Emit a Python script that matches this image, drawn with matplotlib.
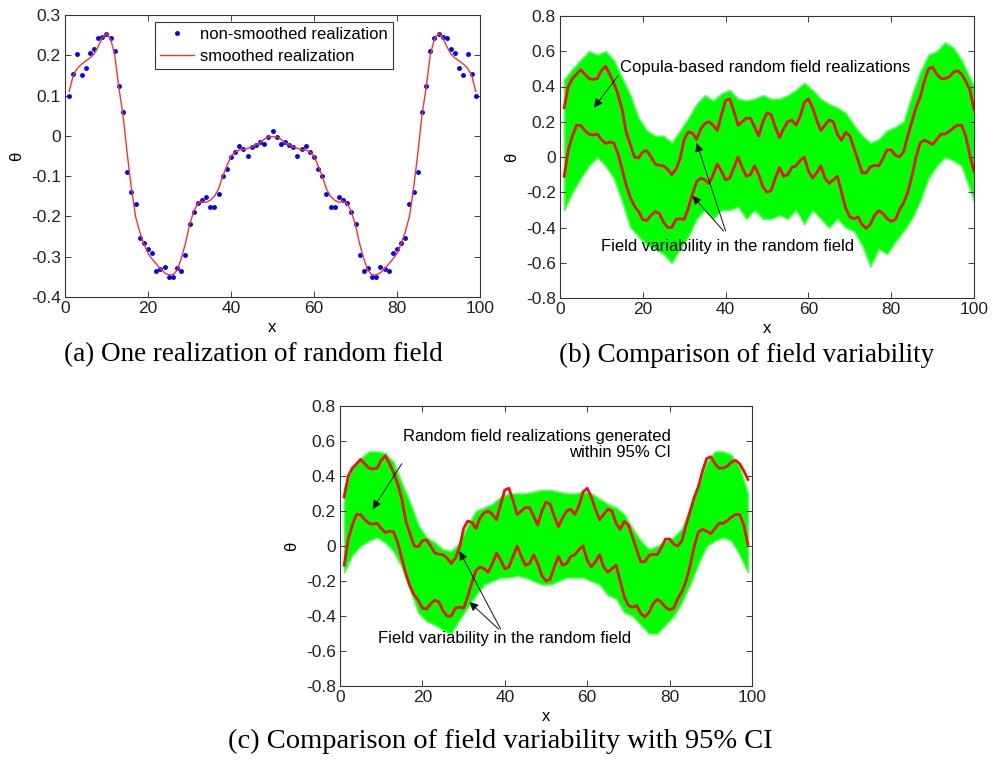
import numpy as np
import matplotlib.pyplot as plt

plt.rcParams['font.family'] = ['Liberation Sans', 'DejaVu Sans']
plt.rcParams['axes.unicode_minus'] = False

# ---- (a) one realization ----
x_a = np.arange(1, 100)
theta_raw = [0.100, 0.153, 0.203, 0.151, 0.169, 0.205, 0.215, 0.244, 0.245, 0.254,
             0.242, 0.211, 0.124, 0.059, -0.090, -0.139, -0.169, -0.253, -0.267, -0.280,
             -0.290, -0.335, -0.331, -0.326, -0.350, -0.350, -0.328, -0.335, -0.296, -0.220,
             -0.188, -0.167, -0.158, -0.153, -0.177, -0.177, -0.144, -0.100, -0.083, -0.052,
             -0.040, -0.024, -0.033, -0.051, -0.027, -0.022, -0.016, -0.020, -0.002, 0.012,
             -0.002, -0.020, -0.016, -0.022, -0.027, -0.051, -0.033, -0.024, -0.040, -0.052,
             -0.083, -0.100, -0.144, -0.177, -0.177, -0.153, -0.158, -0.167, -0.188, -0.220,
             -0.296, -0.335, -0.328, -0.350, -0.350, -0.326, -0.331, -0.335, -0.290, -0.280,
             -0.267, -0.253, -0.169, -0.139, -0.090, 0.059, 0.124, 0.211, 0.242, 0.254,
             0.245, 0.244, 0.215, 0.205, 0.169, 0.151, 0.203, 0.153, 0.100]
theta_smooth = [0.110, 0.150, 0.168, 0.178, 0.186, 0.193, 0.203, 0.222, 0.244, 0.254,
                0.240, 0.200, 0.118, 0.050, -0.045, -0.130, -0.200, -0.238, -0.268, -0.292,
                -0.306, -0.318, -0.330, -0.340, -0.345, -0.345, -0.334, -0.305, -0.268, -0.222,
                -0.188, -0.168, -0.162, -0.165, -0.160, -0.150, -0.132, -0.100, -0.075, -0.050,
                -0.040, -0.035, -0.034, -0.031, -0.028, -0.022, -0.017, -0.008, -0.003, -0.002,
                -0.003, -0.008, -0.017, -0.022, -0.028, -0.031, -0.034, -0.035, -0.040, -0.050,
                -0.075, -0.100, -0.132, -0.150, -0.160, -0.165, -0.162, -0.168, -0.188, -0.222,
                -0.268, -0.305, -0.334, -0.345, -0.345, -0.340, -0.330, -0.318, -0.306, -0.292,
                -0.268, -0.238, -0.200, -0.130, -0.045, 0.050, 0.118, 0.200, 0.240, 0.254,
                0.244, 0.222, 0.203, 0.193, 0.186, 0.178, 0.168, 0.150, 0.110]

# ---- (b), (c) field variability bounds (red) ----
x_bc = np.arange(1, 101)
var_upper = [0.28, 0.40, 0.445, 0.47, 0.495, 0.47, 0.445, 0.44, 0.445, 0.49,
             0.515, 0.47, 0.42, 0.355, 0.27, 0.14, 0.07, 0.00, -0.005, 0.03,
             0.035, 0.00, -0.04, -0.047, -0.05, -0.07, -0.10, -0.07, -0.01, 0.10,
             0.143, 0.135, 0.10, 0.16, 0.19, 0.20, 0.18, 0.15, 0.24, 0.32,
             0.33, 0.26, 0.18, 0.20, 0.22, 0.22, 0.17, 0.12, 0.20, 0.25,
             0.24, 0.17, 0.11, 0.16, 0.20, 0.21, 0.18, 0.23, 0.31, 0.33,
             0.28, 0.21, 0.15, 0.18, 0.21, 0.20, 0.13, 0.095, 0.14, 0.12,
             0.05, -0.02, -0.09, -0.09, -0.055, -0.047, -0.05, -0.01, 0.04, 0.04,
             0.01, 0.00, 0.03, 0.12, 0.20, 0.28, 0.34, 0.43, 0.50, 0.51,
             0.47, 0.445, 0.445, 0.455, 0.48, 0.49, 0.47, 0.43, 0.38, 0.27]
var_lower = [-0.11, 0.04, 0.12, 0.18, 0.18, 0.15, 0.13, 0.125, 0.13, 0.10,
             0.077, 0.085, 0.08, 0.02, -0.07, -0.16, -0.23, -0.28, -0.31, -0.355,
             -0.36, -0.33, -0.31, -0.32, -0.37, -0.40, -0.40, -0.355, -0.35, -0.355,
             -0.29, -0.21, -0.14, -0.12, -0.13, -0.15, -0.10, -0.04, -0.08, -0.13,
             -0.12, -0.06, 0.00, -0.06, -0.11, -0.10, -0.05, -0.10, -0.17, -0.20,
             -0.19, -0.12, -0.06, -0.11, -0.10, -0.06, -0.05, -0.02, 0.00, -0.08,
             -0.12, -0.09, -0.05, -0.12, -0.15, -0.13, -0.11, -0.20, -0.29, -0.34,
             -0.35, -0.34, -0.385, -0.405, -0.38, -0.33, -0.305, -0.32, -0.35, -0.365,
             -0.355, -0.30, -0.26, -0.20, -0.11, 0.00, 0.08, 0.095, 0.085, 0.07,
             0.10, 0.13, 0.13, 0.145, 0.165, 0.18, 0.18, 0.12, 0.01, -0.08]

# ---- realization envelopes (green) ----
x_env = [1, 3, 5, 7, 9, 11, 13, 15, 17, 19, 21, 23, 25, 27, 29, 31, 33, 35, 37, 39,
         41, 43, 45, 47, 49, 51, 53, 55, 57, 59, 61, 63, 65, 67, 69, 71, 73, 75, 77, 79,
         81, 83, 85, 87, 89, 91, 93, 95, 97, 99]
copula_top = [0.44, 0.50, 0.55, 0.60, 0.58, 0.60, 0.55, 0.45, 0.35, 0.22,
              0.15, 0.12, 0.12, 0.08, 0.15, 0.22, 0.30, 0.35, 0.32, 0.36,
              0.38, 0.33, 0.32, 0.33, 0.35, 0.33, 0.33, 0.35, 0.38, 0.42,
              0.38, 0.33, 0.30, 0.28, 0.25, 0.18, 0.12, 0.08, 0.10, 0.15,
              0.17, 0.20, 0.35, 0.48, 0.58, 0.60, 0.65, 0.62, 0.55, 0.45]
copula_bottom = [-0.30, -0.20, -0.12, -0.05, 0.00, -0.05, -0.12, -0.25, -0.40, -0.45,
                 -0.50, -0.52, -0.55, -0.60, -0.52, -0.45, -0.35, -0.30, -0.35, -0.30,
                 -0.30, -0.28, -0.35, -0.30, -0.35, -0.35, -0.33, -0.35, -0.30, -0.38,
                 -0.30, -0.35, -0.40, -0.35, -0.40, -0.42, -0.50, -0.62, -0.52, -0.55,
                 -0.48, -0.42, -0.35, -0.25, -0.12, -0.05, 0.00, -0.02, -0.05, -0.18]
ci_top = [0.33, 0.45, 0.50, 0.54, 0.54, 0.53, 0.48, 0.36, 0.25, 0.12,
          0.05, 0.02, -0.02, -0.03, 0.02, 0.12, 0.20, 0.22, 0.24, 0.28,
          0.30, 0.30, 0.30, 0.31, 0.32, 0.32, 0.31, 0.30, 0.30, 0.31,
          0.30, 0.27, 0.24, 0.22, 0.18, 0.10, 0.03, -0.02, 0.00, 0.03,
          0.05, 0.10, 0.22, 0.35, 0.48, 0.54, 0.54, 0.52, 0.45, 0.30]
ci_bottom = [-0.15, -0.05, 0.00, 0.03, 0.05, 0.02, -0.03, -0.12, -0.25, -0.38,
             -0.43, -0.45, -0.48, -0.50, -0.42, -0.35, -0.28, -0.22, -0.20, -0.18,
             -0.18, -0.17, -0.18, -0.20, -0.22, -0.22, -0.20, -0.18, -0.18, -0.18,
             -0.20, -0.22, -0.28, -0.30, -0.38, -0.40, -0.45, -0.50, -0.50, -0.45,
             -0.40, -0.32, -0.22, -0.10, 0.00, 0.03, 0.05, 0.03, -0.05, -0.15]

W, H = 1003, 762
fig = plt.figure(figsize=(W / 100, H / 100), dpi=100)


def px_axes(left, top, right, bottom):
    return fig.add_axes([left / W, 1 - bottom / H, (right - left) / W, (bottom - top) / H])


def matlab_style(ax, ylim, yticks):
    ax.set_xlim(0, 100)
    ax.set_ylim(*ylim)
    ax.set_xticks(np.arange(0, 101, 20))
    ax.set_yticks(yticks)
    ax.set_yticklabels(['%g' % (round(t, 2) + 0.0) for t in yticks])
    ax.tick_params(direction='in', top=True, right=True, length=4, width=0.6,
                   labelsize=12.5, pad=3, colors='#222222')
    for s in ax.spines.values():
        s.set_linewidth(0.8)
        s.set_color('#333333')
    ax.set_xlabel('x', fontsize=12, labelpad=3)
    ax.set_ylabel('θ', fontsize=12, labelpad=5)


arrow_kw = dict(arrowstyle='-|>', color='#111111', lw=0.7, mutation_scale=13,
                shrinkA=0, shrinkB=0)
note = dict(fontsize=12, va='center')

# (a)
ax1 = px_axes(65, 15, 480, 297)
ax1.plot(x_a, theta_raw, 'b.', markersize=5, label='non-smoothed realization')
ax1.plot(x_a, theta_smooth, color='#ff3030', lw=1.0, label='smoothed realization')
matlab_style(ax1, (-0.4, 0.3), np.round(np.arange(-0.4, 0.31, 0.1), 1))
leg = ax1.legend(loc='upper left', bbox_to_anchor=(0.218, 0.976), fontsize=12,
                 fancybox=False, edgecolor='#333333', framealpha=1,
                 handlelength=2.0, borderpad=0.3, labelspacing=0.45, handletextpad=0.4,
                 borderaxespad=0)
leg.get_frame().set_linewidth(0.8)

# (b)
ax2 = px_axes(560, 16, 974, 298)
ax2.fill_between(x_env + [100], copula_top + [0.40], copula_bottom + [-0.25],
                 color='#00ff00', lw=1.2, edgecolor='#50ff50')
ax2.plot(x_bc, var_upper, color='#ee1111', lw=2.0)
ax2.plot(x_bc, var_lower, color='#ee1111', lw=2.0)
matlab_style(ax2, (-0.8, 0.8), np.round(np.arange(-0.8, 0.81, 0.2), 1))
ax2.text(14.5, 0.51, 'Copula-based random field realizations', **note)
ax2.annotate('', xy=(8.2, 0.28), xytext=(14.0, 0.46), arrowprops=arrow_kw)
ax2.text(10.0, -0.505, 'Field variability in the random field', **note)
ax2.annotate('', xy=(33.0, 0.08), xytext=(40.0, -0.42), arrowprops=arrow_kw)
ax2.annotate('', xy=(32.0, -0.22), xytext=(39.5, -0.42), arrowprops=arrow_kw)

# (c)
ax3 = px_axes(340, 406, 752, 686)
ax3.fill_between(x_env, ci_top, ci_bottom, color='#00ff00', lw=1.2, edgecolor='#50ff50')
ax3.plot(x_bc[:99], var_upper[:99], color='#ee1111', lw=2.0)
ax3.plot(x_bc[:99], var_lower[:99], color='#ee1111', lw=2.0)
matlab_style(ax3, (-0.8, 0.8), np.round(np.arange(-0.8, 0.81, 0.2), 1))
ax3.text(80.3, 0.58, 'Random field realizations generated\nwithin 95% CI',
         ha='right', linespacing=1.15, **note)
ax3.annotate('', xy=(7.9, 0.21), xytext=(15.0, 0.47), arrowprops=arrow_kw)
ax3.text(9.3, -0.53, 'Field variability in the random field', **note)
ax3.annotate('', xy=(29.0, -0.03), xytext=(39.0, -0.475), arrowprops=arrow_kw)
ax3.annotate('', xy=(31.4, -0.32), xytext=(38.5, -0.475), arrowprops=arrow_kw)

# captions
cap = dict(family=['Liberation Serif', 'DejaVu Serif'], ha='center', va='center')
fig.text(253 / W, 1 - 355 / H, '(a) One realization of random field', fontsize=19.5, **cap)
fig.text(747 / W, 1 - 355 / H, '(b) Comparison of field variability', fontsize=19.5, **cap)
fig.text(500 / W, 1 - 741 / H, '(c) Comparison of field variability with 95% CI',
         fontsize=20.5, **cap)

fig.savefig('out.png', dpi=100)
